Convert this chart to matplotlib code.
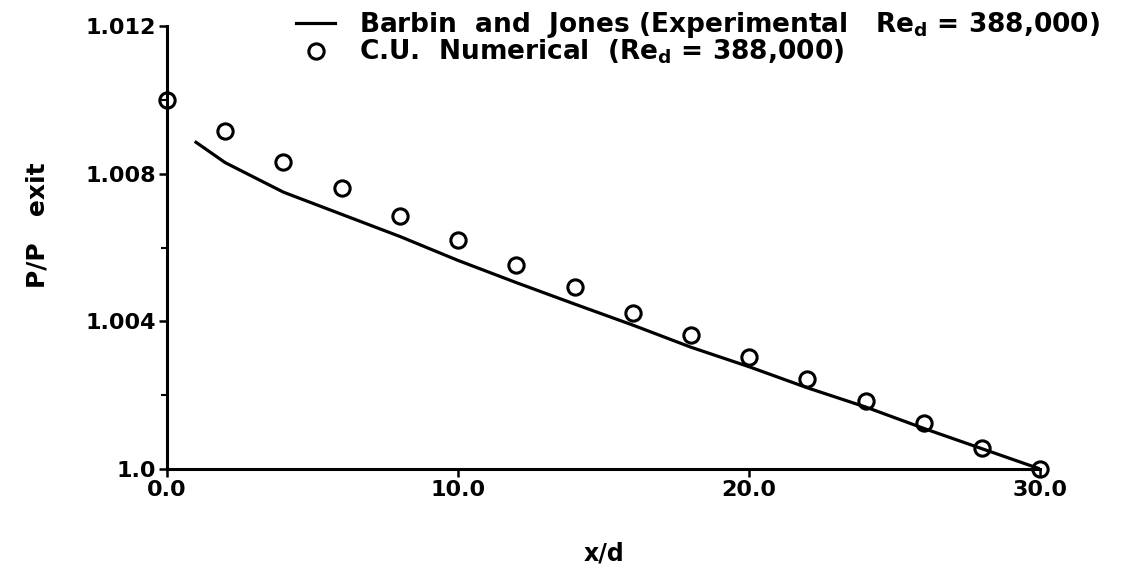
import matplotlib
matplotlib.use("Agg")
import matplotlib.pyplot as plt
from matplotlib.ticker import FixedLocator

plt.rcParams["font.family"] = "DejaVu Sans"
plt.rcParams["font.weight"] = "bold"
plt.rcParams["mathtext.default"] = "bf"

# Barbin and Jones experimental pressure distribution
exp_x = [1.0, 2, 4, 6, 8, 10, 12, 14, 16, 18, 20, 22, 24, 26, 28, 30]
exp_p = [1.00885, 1.0083, 1.0075, 1.0069, 1.0063, 1.00565, 1.00505, 1.00447,
         1.0039, 1.0033, 1.00277, 1.0022, 1.00168, 1.0011, 1.00055, 1.0]

# C.U. numerical results
num_x = [0, 2, 4, 6, 8, 10, 12, 14, 16, 18, 20, 22, 24, 26, 28, 30]
num_p = [1.0100, 1.00916, 1.00832, 1.00762, 1.00686, 1.0062, 1.00552, 1.00492,
         1.00424, 1.00364, 1.00304, 1.00243, 1.00184, 1.00124, 1.00057, 1.0]

x_ticks = [0.0, 10.0, 20.0, 30.0]
x_labels = ["0.0", "10.0", "20.0", "30.0"]
y_ticks = [1.0, 1.004, 1.008, 1.012]
y_labels = ["1.0", "1.004", "1.008", "1.012"]
y_minor = [1.002, 1.006, 1.010]

fig = plt.figure(figsize=(11.32, 5.72), dpi=100)
ax = fig.add_axes([0.1475, 0.18, 0.7715, 0.7745])

ax.plot(exp_x, exp_p, color="black", lw=2.3,
        label=r"Barbin  and  Jones (Experimental   Re$_d$ = 388,000)")
ax.plot(num_x, num_p, linestyle="none", marker="o", ms=11, mew=2.2,
        mfc="none", mec="black", clip_on=False,
        label=r"C.U.  Numerical  (Re$_d$ = 388,000)")

ax.set_xlim(0, 30)
ax.set_ylim(1.0, 1.012)
ax.spines["top"].set_visible(False)
ax.spines["right"].set_visible(False)
ax.spines["left"].set_linewidth(2.2)
ax.spines["bottom"].set_linewidth(2.2)

ax.set_xticks(x_ticks)
ax.set_xticklabels(x_labels)
ax.set_yticks(y_ticks)
ax.set_yticklabels(y_labels)
ax.yaxis.set_minor_locator(FixedLocator(y_minor))
ax.tick_params(axis="both", which="major", direction="out", length=6, width=1.8,
               labelsize=16, pad=2)
ax.tick_params(axis="y", which="minor", direction="out", length=4, width=1.5)

ax.set_xlabel("x/d", fontsize=17, fontweight="bold", labelpad=30)
ax.set_ylabel("P/P   exit", fontsize=18, fontweight="bold")
ax.yaxis.set_label_coords(-0.135, 0.55)

ax.legend(loc="upper left", bbox_to_anchor=(0.245, 1.014),
          bbox_transform=fig.transFigure, frameon=False, fontsize=19,
          handlelength=1.5, handletextpad=0.9, labelspacing=-0.1,
          borderpad=0.2)

fig.savefig("out.png", dpi=100)
